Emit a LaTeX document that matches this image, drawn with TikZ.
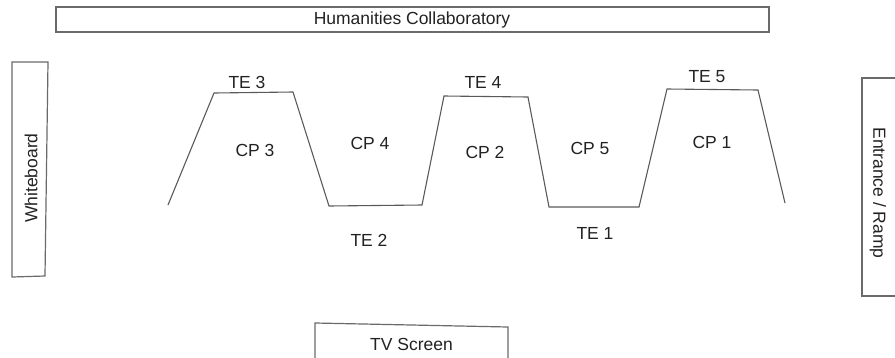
\documentclass[tikz,border=0pt]{standalone}
\usepackage{fontspec}
\setmainfont{Liberation Sans}
\definecolor{linegray}{HTML}{5A5A5A}
\definecolor{boxgray}{HTML}{6A6A6A}
\definecolor{txtgray}{HTML}{222222}
\tikzset{
  lbl/.style={inner sep=0pt, text=txtgray, font=\fontsize{17.5}{20}\selectfont},
  boxline/.style={draw=boxgray, line width=1.2pt},
  trap/.style={draw=linegray, line width=1.1pt, line join=miter}
}
\begin{document}
\begin{tikzpicture}[x=1pt,y=-1pt]
\useasboundingbox (0,0) rectangle (895,357);
% top box
\draw[boxline] (56,7) rectangle (769,32);
\node[lbl] (hc) at (412,20) {Humanities Collaboratory};
% whiteboard
\draw[boxline] (12,62) -- (48,62) -- (45,276) -- (12,277) -- cycle;
\node[lbl, rotate=90] (wb) at (31,178) {Whiteboard};
% entrance
\draw[boxline] (900,78) -- (862,78) -- (862,296) -- (900,296);
\node[lbl, rotate=-90] (er) at (878,193) {Entrance / Ramp};
% TV screen
\draw[boxline] (315,360) -- (315,323) -- (508,327) -- (508,360);
\node[lbl] (tv) at (411.5,344) {TV Screen};
% zigzag
\coordinate (p1) at (168,205);
\coordinate (p2) at (214,93);
\coordinate (p3) at (293,92);
\coordinate (p4) at (329,206);
\coordinate (p5) at (422,205);
\coordinate (p6) at (444,96);
\coordinate (p7) at (528,97);
\coordinate (p8) at (549,207);
\coordinate (p9) at (639,207);
\coordinate (p10) at (667,89);
\coordinate (p11) at (758,90);
\coordinate (p12) at (785,203);
\draw[trap] (p1) -- (p2) -- (p3) -- (p4) -- (p5) -- (p6) -- (p7) -- (p8) -- (p9) -- (p10) -- (p11) -- (p12);
% labels
\node[lbl] (te3) at (247,82) {TE 3};
\node[lbl] (cp3) at (255,150) {CP 3};
\node[lbl] (cp4) at (370,143) {CP 4};
\node[lbl] (te2) at (369,240) {TE 2};
\node[lbl] (te4) at (483,82) {TE 4};
\node[lbl] (cp2) at (485,152) {CP 2};
\node[lbl] (cp5) at (590,148) {CP 5};
\node[lbl] (te1) at (595,233) {TE 1};
\node[lbl] (te5) at (707,77) {TE 5};
\node[lbl] (cp1) at (712,142) {CP 1};
\end{tikzpicture}
\end{document}
